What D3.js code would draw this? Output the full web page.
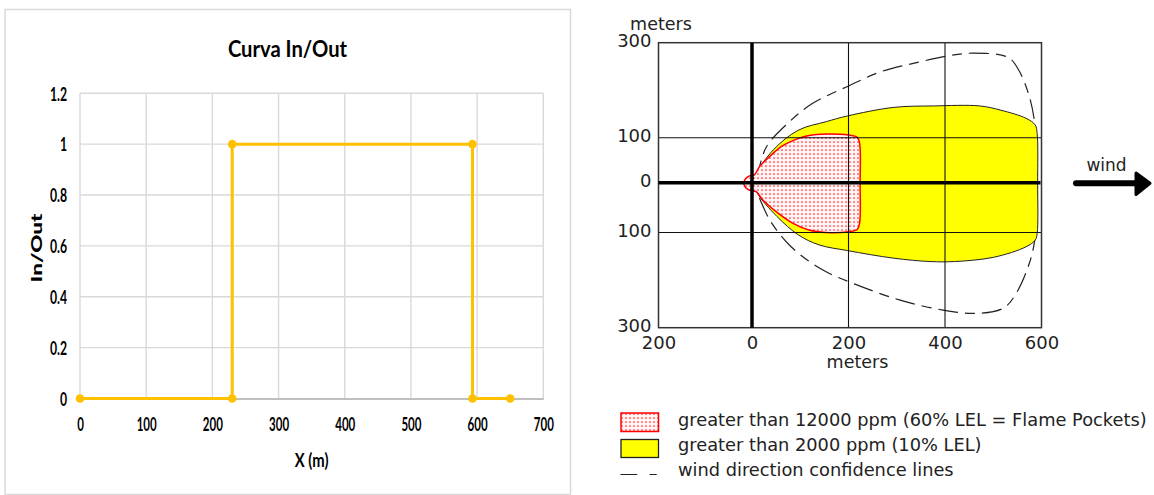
<!DOCTYPE html>
<html>
<head>
<meta charset="utf-8">
<script src="https://cdn.jsdelivr.net/npm/d3@7"></script>
<style>
  html, body { margin: 0; padding: 0; background: #fff; }
  svg { display: block; }
</style>
</head>
<body>
<svg id="chart" width="1154" height="495"></svg>
<script>
// ---- In/Out step curve ----
const inOutX = [0, 230, 230, 593, 593, 650];
const inOutY = [0, 0, 1, 1, 0, 0];
const leftXTicks = [0, 100, 200, 300, 400, 500, 600, 700];
const leftYTicks = [0, 0.2, 0.4, 0.6, 0.8, 1, 1.2];
const leftYLabels = ["0", "0.2", "0.4", "0.6", "0.8", "1", "1.2"];

// ---- Vapour cloud footprint, metres downwind (x) / crosswind (y) ----
// > 2000 ppm (10% LEL)
const lelX = [3, 7.6, 44, 96, 154, 198, 294, 376, 472, 516, 568, 587, 591, 592, 591, 587, 568, 501, 420, 369, 294, 198, 139, 96, 52, 11];
const lelY = [0, 17.7, 73, 116, 134, 146, 164, 167, 167, 158, 141, 127, 109, 0, -102, -116, -130, -152, -161, -161, -154, -138, -126, -105, -68, -21];
// > 12000 ppm (60% LEL, flame pockets)
const flameX = [5, 15.5, 36, 63, 91, 118, 153, 200, 218, 223, 224, 223, 218, 200, 153, 118, 84, 50, 22, 8.6, -2, -13, -17.5, -13, -4];
const flameY = [17.7, 36, 58, 82, 96.5, 104.8, 108, 106, 101, 88, 0, -81, -94, -98.5, -100, -95, -81, -58, -34, -17.6, -16, -10.7, 0, 10, 16];
// wind direction confidence envelope
const confX = [4, 11, 30, 73.5, 125, 198, 267, 341, 405, 457, 531, 553, 575, 586, 590, 590, 586, 575, 548, 521, 462, 396, 307, 212, 147, 81, 37, 11, 4];
const confY = [8, 21, 80, 130, 172, 208, 239, 258, 272, 278, 269, 242, 186, 130, 60, -60, -116, -164, -227, -259, -270, -263, -242, -208, -179, -130, -75, -21, -8];

const mapXTicks = [-200, 0, 200, 400, 600];
const mapXLabels = ["200", "0", "200", "400", "600"];
const mapYTicks = [-300, -100, 0, 100, 300];
const mapYLabels = ["300", "100", "0", "100", "300"];
const legendLabels = [
  "greater than 12000 ppm (60% LEL = Flame Pockets)",
  "greater than 2000 ppm (10% LEL)",
  "wind direction confidence lines"
];

const svg = d3.select("#chart");
const GOLD = "#ffc000";
const GRID = "#d9d9d9";
const LFONT = "Lato, 'Open Sans', sans-serif";
const RFONT = "'DejaVu Sans', Verdana, sans-serif";

// ================= Left panel =================
const left = svg.append("g");
left.append("rect")
  .attr("x", 5).attr("y", 9.5).attr("width", 565.5).attr("height", 485)
  .attr("fill", "#fff").attr("stroke", GRID).attr("stroke-width", 1.5);

const lx = d3.scaleLinear().domain([0, 700]).range([80, 543.3]);
const ly = d3.scaleLinear().domain([0, 1.2]).range([398.5, 93.3]);

// gridlines
left.append("g").selectAll("line").data(leftYTicks.slice(1)).join("line")
  .attr("x1", lx(0)).attr("x2", lx(700))
  .attr("y1", d => ly(d)).attr("y2", d => ly(d))
  .attr("stroke", GRID).attr("stroke-width", 1.4);
left.append("g").selectAll("line").data(leftXTicks).join("line")
  .attr("x1", d => lx(d)).attr("x2", d => lx(d))
  .attr("y1", ly(0)).attr("y2", ly(1.2))
  .attr("stroke", GRID).attr("stroke-width", 1.4);

// x axis
const lxAxis = left.append("g")
  .attr("transform", `translate(0,${ly(0)})`)
  .call(d3.axisBottom(lx).tickValues(leftXTicks).tickSize(0).tickFormat(d3.format("d")));
lxAxis.select(".domain").attr("stroke", "#bfbfbf").attr("stroke-width", 1.8);
lxAxis.selectAll("text")
  .attr("y", null).attr("dy", null)
  .attr("transform", "translate(0,32.5) scale(0.64,1)")
  .attr("font-family", LFONT).attr("font-weight", 700)
  .attr("font-size", 18).attr("fill", "#000");

// y axis
const lyAxis = left.append("g")
  .attr("transform", `translate(${lx(0)},0)`)
  .call(d3.axisLeft(ly).tickValues(leftYTicks).tickSize(0)
    .tickFormat((d, i) => leftYLabels[i]));
lyAxis.select(".domain").remove();
lyAxis.selectAll("text")
  .attr("x", null).attr("dy", null)
  .attr("transform", "translate(-13,6.8) scale(0.68,1)")
  .attr("font-family", LFONT).attr("font-weight", 700)
  .attr("font-size", 18).attr("fill", "#000");

// step line + markers
const steps = inOutX.map((x, i) => [x, inOutY[i]]);
left.append("path").datum(steps)
  .attr("d", d3.line().x(d => lx(d[0])).y(d => ly(d[1])))
  .attr("fill", "none").attr("stroke", GOLD).attr("stroke-width", 3);
left.append("g").selectAll("circle").data(steps).join("circle")
  .attr("cx", d => lx(d[0])).attr("cy", d => ly(d[1])).attr("r", 4.3)
  .attr("fill", GOLD);

// titles
left.append("text")
  .attr("transform", "translate(287.5,56.5) scale(0.86,1)")
  .attr("text-anchor", "middle").attr("font-family", LFONT)
  .attr("font-weight", 700).attr("font-size", 23.5).attr("fill", "#000")
  .text("Curva In/Out");
left.append("text")
  .attr("transform", "translate(311.7,466.5) scale(0.8,1)")
  .attr("text-anchor", "middle").attr("font-family", LFONT)
  .attr("font-weight", 700).attr("font-size", 18.5).attr("fill", "#000")
  .text("X (m)");
left.append("text")
  .attr("transform", "translate(41.5,248) rotate(-90) scale(1,0.64)")
  .attr("text-anchor", "middle").attr("font-family", LFONT)
  .attr("font-weight", 900).attr("font-size", 22.5).attr("fill", "#000")
  .text("In/Out");

// ================= Right panel =================
const right = svg.append("g");
const mx = d3.scaleLinear().domain([-200, 0, 200, 400, 600]).range([658.5, 752, 848.5, 945, 1041.5]);
const my = d3.scaleLinear().domain([-300, -100, 0, 100, 300]).range([327.7, 232.5, 182.8, 137.8, 42.7]);

// red dot stipple for the flame-pocket zone
const defs = svg.append("defs");
const pat = defs.append("pattern").attr("id", "dots")
  .attr("patternUnits", "userSpaceOnUse").attr("width", 4).attr("height", 4);
pat.append("rect").attr("width", 4).attr("height", 4).attr("fill", "#fff3f3");
pat.append("circle").attr("cx", 2).attr("cy", 2).attr("r", 0.85).attr("fill", "#ff2a2a");

right.append("rect")
  .attr("x", mx(-200)).attr("y", my(300))
  .attr("width", mx(600) - mx(-200)).attr("height", my(-300) - my(300))
  .attr("fill", "#fff");

const pts = (xs, ys) => xs.map((x, i) => [x, ys[i]]);

// confidence envelope (dashed)
right.append("path").datum(pts(confX, confY))
  .attr("d", d3.line().x(d => mx(d[0])).y(d => my(d[1])).curve(d3.curveCatmullRom))
  .attr("fill", "none").attr("stroke", "#222").attr("stroke-width", 1.2)
  .attr("stroke-dasharray", "20,7,10,7");

// 10% LEL zone
right.append("path").datum(pts(lelX, lelY))
  .attr("d", d3.line().x(d => mx(d[0])).y(d => my(d[1])).curve(d3.curveCatmullRomClosed))
  .attr("fill", "#ffff00").attr("stroke", "#222").attr("stroke-width", 1);

// 60% LEL zone
right.append("path").datum(pts(flameX, flameY))
  .attr("d", d3.line().x(d => mx(d[0])).y(d => my(d[1])).curve(d3.curveCatmullRomClosed))
  .attr("fill", "url(#dots)").attr("stroke", "#ff0000").attr("stroke-width", 1.5);

// grid
right.append("g").selectAll("line").data([200, 400]).join("line")
  .attr("x1", d => mx(d)).attr("x2", d => mx(d))
  .attr("y1", my(300)).attr("y2", my(-300))
  .attr("stroke", "#111").attr("stroke-width", 1.1);
right.append("g").selectAll("line").data([100, -100]).join("line")
  .attr("x1", mx(-200)).attr("x2", mx(600))
  .attr("y1", d => my(d)).attr("y2", d => my(d))
  .attr("stroke", "#111").attr("stroke-width", 1.1);
right.append("rect")
  .attr("x", mx(-200)).attr("y", my(300))
  .attr("width", mx(600) - mx(-200)).attr("height", my(-300) - my(300))
  .attr("fill", "none").attr("stroke", "#333").attr("stroke-width", 1.5);
// main axes
right.append("line")
  .attr("x1", mx(0)).attr("x2", mx(0)).attr("y1", my(300)).attr("y2", my(-300))
  .attr("stroke", "#000").attr("stroke-width", 3.5);
right.append("line")
  .attr("x1", mx(-200)).attr("x2", mx(600) - 1).attr("y1", my(0)).attr("y2", my(0))
  .attr("stroke", "#000").attr("stroke-width", 3.5);

// tick labels
const rxAxis = right.append("g")
  .attr("transform", `translate(0,${my(-300)})`)
  .call(d3.axisBottom(mx).tickValues(mapXTicks).tickSize(0)
    .tickFormat((d, i) => mapXLabels[i]));
rxAxis.select(".domain").remove();
rxAxis.selectAll("text")
  .attr("y", 21.5).attr("dy", null)
  .attr("font-family", RFONT).attr("font-size", 18).attr("fill", "#222");
const ryAxis = right.append("g")
  .attr("transform", `translate(${mx(-200)},0)`)
  .call(d3.axisLeft(my).tickValues(mapYTicks).tickSize(0)
    .tickFormat((d, i) => mapYLabels[i]));
ryAxis.select(".domain").remove();
ryAxis.selectAll("text")
  .attr("x", -7).attr("dy", "0.22em")
  .attr("font-family", RFONT).attr("font-size", 18).attr("fill", "#222");

right.append("text").attr("x", 661).attr("y", 29.5)
  .attr("text-anchor", "middle").attr("font-family", RFONT)
  .attr("font-size", 17.5).attr("fill", "#222").text("meters");
right.append("text").attr("x", 857.5).attr("y", 368)
  .attr("text-anchor", "middle").attr("font-family", RFONT)
  .attr("font-size", 17.5).attr("fill", "#222").text("meters");

// wind arrow
right.append("text").attr("x", 1106.5).attr("y", 170.5)
  .attr("text-anchor", "middle").attr("font-family", RFONT)
  .attr("font-size", 17).attr("fill", "#222").text("wind");
right.append("line")
  .attr("x1", 1076).attr("x2", 1138).attr("y1", 183.3).attr("y2", 183.3)
  .attr("stroke", "#000").attr("stroke-width", 6).attr("stroke-linecap", "round");
right.append("path")
  .attr("d", "M1136,173 L1150,183.3 L1136,194.5 Z")
  .attr("fill", "#000").attr("stroke", "#000").attr("stroke-width", 3)
  .attr("stroke-linejoin", "round");

// legend
const lg = right.append("g");
lg.append("rect").attr("x", 621).attr("y", 413).attr("width", 37.5).attr("height", 18.5)
  .attr("fill", "url(#dots)").attr("stroke", "#ff0000").attr("stroke-width", 1.5);
lg.append("rect").attr("x", 621).attr("y", 439.5).attr("width", 37.5).attr("height", 18)
  .attr("fill", "#ffff00").attr("stroke", "#222").attr("stroke-width", 1.3);
lg.append("line").attr("x1", 620.5).attr("x2", 657).attr("y1", 474.5).attr("y2", 474.5)
  .attr("stroke", "#222").attr("stroke-width", 1.2).attr("stroke-dasharray", "16.7,12.4,7.1,50");
lg.selectAll("text").data(legendLabels).join("text")
  .attr("x", 678).attr("y", (d, i) => 425.5 + i * 25.3)
  .attr("font-family", RFONT).attr("font-size", 17.8).attr("fill", "#222")
  .text(d => d);
</script>
</body>
</html>
